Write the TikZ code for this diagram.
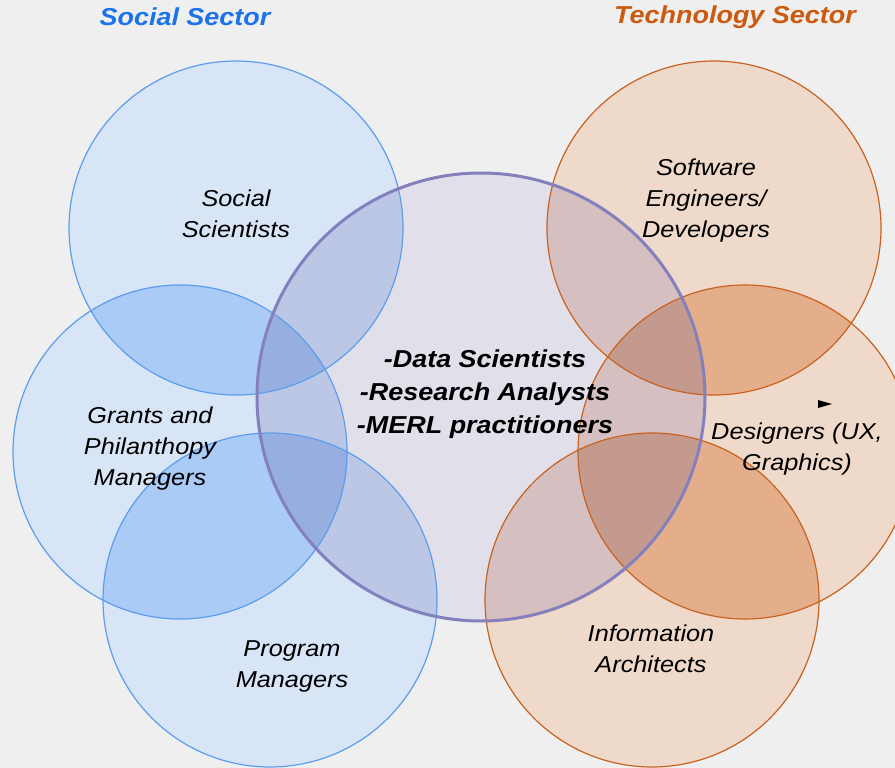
\documentclass[tikz,border=0pt]{standalone}
\usepackage{fontspec}
\setmainfont{Liberation Sans}[FakeStretch=1.1]
\definecolor{bgray}{HTML}{EFEFEF}
\definecolor{socone}{HTML}{D7E5F6}
\definecolor{soctwo}{HTML}{A9CBF6}
\definecolor{socline}{HTML}{5C9DED}
\definecolor{socblue}{HTML}{1A73E8}
\definecolor{techone}{HTML}{EED9CA}
\definecolor{techtwo}{HTML}{E5AE8B}
\definecolor{techline}{HTML}{C8621E}
\definecolor{techorange}{HTML}{CC5A0E}
\definecolor{midone}{HTML}{E1DFEA}
\definecolor{midsoc}{HTML}{BCC7E6}
\definecolor{midsoctwo}{HTML}{96AFE0}
\definecolor{midtech}{HTML}{D5BFC0}
\definecolor{midtechtwo}{HTML}{C49A8E}
\definecolor{midline}{HTML}{8480BE}
\begin{document}
\begin{tikzpicture}[
        x=1pt, y=-1pt,
        lbl/.style={align=center, font=\fontsize{23}{31}\selectfont\itshape},
        core/.style={align=center, font=\fontsize{24.5}{33}\selectfont\bfseries\itshape},
        title/.style={font=\fontsize{24.5}{28}\selectfont\bfseries\itshape},
        soc/.style={draw=socline, line width=1.2pt},
        tech/.style={draw=techline, line width=1.2pt}
    ]
        \useasboundingbox (0,0) rectangle (895,768);
        \clip (0,0) rectangle (895,768);
        \fill[bgray] (0,0) rectangle (895,768);

        % Circle centres
        \coordinate (ss) at (236,228);
        \coordinate (gp) at (180,452);
        \coordinate (pm) at (270,600);
        \coordinate (mid) at (481,397);
        \coordinate (sw) at (714,228);
        \coordinate (ux) at (745,452);
        \coordinate (ia) at (652,600);
        \def\rr{167}
        \def\rc{224}

        % Sector circles and their overlaps
        \foreach \cc in {ss,gp,pm} \fill[socone] (\cc) circle (\rr);
        \foreach \cc in {sw,ux,ia} \fill[techone] (\cc) circle (\rr);
        \foreach \a/\b/\col in {ss/gp/soctwo, gp/pm/soctwo, sw/ux/techtwo, ux/ia/techtwo}{
            \begin{scope}
                \clip (\a) circle (\rr);
                \fill[\col] (\b) circle (\rr);
            \end{scope}
        }

        % Centre circle
        \fill[midone] (mid) circle (\rc);
        \begin{scope}
            \clip (mid) circle (\rc);
            \foreach \cc in {ss,gp,pm} \fill[midsoc] (\cc) circle (\rr);
            \foreach \cc in {sw,ux,ia} \fill[midtech] (\cc) circle (\rr);
            \foreach \a/\b/\col in {ss/gp/midsoctwo, gp/pm/midsoctwo, sw/ux/midtechtwo, ux/ia/midtechtwo}{
                \begin{scope}
                    \clip (\a) circle (\rr);
                    \fill[\col] (\b) circle (\rr);
                \end{scope}
            }
        \end{scope}

        % Outlines
        \foreach \cc in {ss,gp,pm} \draw[soc] (\cc) circle (\rr);
        \foreach \cc in {sw,ux,ia} \draw[tech] (\cc) circle (\rr);
        \draw[midline, line width=3pt] (mid) circle (\rc);

        % Titles
        \node[title, text=socblue] (socsec) at (185,17) {Social Sector};
        \node[title, text=techorange] (techsec) at (735,17) {Technology Sector};

        % Labels
        \node[lbl] (sslbl) at (236,214) {Social\\Scientists};
        \node[lbl] (gplbl) at (150,449) {Grants and\\Philanthopy\\Managers};
        \node[lbl] (pmlbl) at (292,666) {Program\\Managers};
        \node[core] (midlbl) at (485,394) {-Data Scientists\\-Research Analysts\\-MERL practitioners};
        \node[lbl] (swlbl) at (706,201) {Software\\Engineers/\\Developers};
        \node[lbl] (uxlbl) at (797,449) {Designers (UX,\\Graphics)};
        \node[lbl] (ialbl) at (651,649) {Information\\Architects};

        % Stray pointer
        \fill (818,400) -- (832,404) -- (818,408) -- cycle;
\end{tikzpicture}
\end{document}
